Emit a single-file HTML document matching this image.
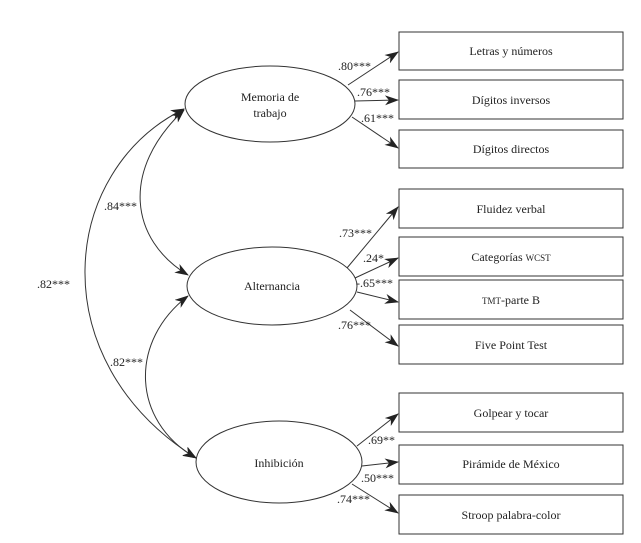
<!DOCTYPE html>
<html><head><meta charset="utf-8"><style>
html,body{margin:0;padding:0;background:#fff;}
svg, svg text{font-family:"Liberation Serif","DejaVu Serif",serif;}
svg text{font-size:12px;fill:#222;}
</style></head><body>
<svg width="641" height="538" viewBox="0 0 641 538" xmlns="http://www.w3.org/2000/svg" font-family="Liberation Serif, serif">
<defs><marker id="a" markerWidth="14" markerHeight="10" refX="13" refY="5" orient="auto-start-reverse" markerUnits="userSpaceOnUse"><path d="M0,0 L14,5 L0,10 L4,5 z" fill="#222"/></marker></defs>
<g fill="#fff" stroke="#333" stroke-width="1">
<ellipse cx="270" cy="104" rx="85" ry="38"/>
<ellipse cx="272" cy="286" rx="85" ry="39"/>
<ellipse cx="279" cy="462" rx="83" ry="41"/>
<rect x="399" y="32" width="224" height="38"/>
<rect x="399" y="80" width="224" height="39"/>
<rect x="399" y="130" width="224" height="38"/>
<rect x="399" y="189" width="224" height="39"/>
<rect x="399" y="237" width="224" height="39"/>
<rect x="399" y="280" width="224" height="39"/>
<rect x="399" y="325" width="224" height="39"/>
<rect x="399" y="393" width="224" height="39"/>
<rect x="399" y="445" width="224" height="39"/>
<rect x="399" y="495" width="224" height="39"/>
</g>
<g stroke="#333" stroke-width="1" fill="none">
<line x1="348" y1="85" x2="398" y2="52" marker-end="url(#a)"/>
<line x1="355" y1="101" x2="398" y2="100" marker-end="url(#a)"/>
<line x1="352" y1="117" x2="398" y2="148" marker-end="url(#a)"/>
<line x1="347" y1="268" x2="398" y2="207" marker-end="url(#a)"/>
<line x1="355" y1="278" x2="398" y2="258" marker-end="url(#a)"/>
<line x1="357" y1="292" x2="398" y2="302" marker-end="url(#a)"/>
<line x1="350" y1="310" x2="398" y2="346" marker-end="url(#a)"/>
<line x1="357" y1="446" x2="398" y2="414" marker-end="url(#a)"/>
<line x1="362" y1="466" x2="398" y2="462" marker-end="url(#a)"/>
<line x1="352" y1="484" x2="398" y2="513" marker-end="url(#a)"/>
<path d="M196,458 C40,360 60,170 184,109" marker-start="url(#a)" marker-end="url(#a)"/>
<path d="M184,110 C120,170 130,240 188,275" marker-start="url(#a)" marker-end="url(#a)"/>
<path d="M188,296 C130,340 130,420 196,458" marker-start="url(#a)" marker-end="url(#a)"/>
</g>
<g text-anchor="middle">
<text x="270" y="101">Memoria de</text><text x="270" y="117">trabajo</text>
<text x="272" y="290">Alternancia</text>
<text x="279" y="467">Inhibición</text>
<text x="511" y="55">Letras y números</text>
<text x="511" y="104">Dígitos inversos</text>
<text x="511" y="153">Dígitos directos</text>
<text x="511" y="213">Fluidez verbal</text>
<text x="511" y="261">Categorías <tspan font-size="9">WCST</tspan></text>
<text x="511" y="304"><tspan font-size="9">TMT</tspan>-parte B</text>
<text x="511" y="349">Five Point Test</text>
<text x="511" y="417">Golpear y tocar</text>
<text x="511" y="468">Pirámide de México</text>
<text x="511" y="519">Stroop palabra-color</text>
</g>
<text x="338" y="70">.80***</text>
<text x="357" y="96">.76***</text>
<text x="361" y="122">.61***</text>
<text x="339" y="237">.73***</text>
<text x="363" y="262">.24*</text>
<text x="356" y="287">-.65***</text>
<text x="338" y="329">.76***</text>
<text x="368" y="444">.69**</text>
<text x="361" y="482">.50***</text>
<text x="337" y="503">.74***</text>
<text x="104" y="210">.84***</text>
<text x="37" y="288">.82***</text>
<text x="110" y="366">.82***</text>
</svg>
</body></html>
